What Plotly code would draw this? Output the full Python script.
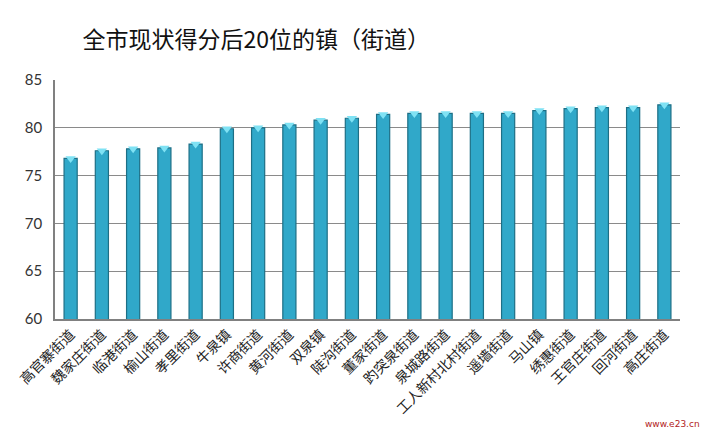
import plotly.graph_objects as go

categories = ["高官寨街道", "魏家庄街道", "临港街道", "榆山街道", "孝里街道", "牛泉镇",
              "许商街道", "黄河街道", "双泉镇", "陡沟街道", "董家街道", "趵突泉街道",
              "泉城路街道", "工人新村北村街道", "遥墙街道", "马山镇", "绣惠街道",
              "王官庄街道", "回河街道", "高庄街道"]
scores = [76.8, 77.6, 77.8, 77.9, 78.3, 79.9, 80.0, 80.3, 80.8, 81.0,
          81.4, 81.5, 81.5, 81.5, 81.5, 81.8, 82.0, 82.1, 82.1, 82.4]
y_ticks = [60, 65, 70, 75, 80, 85]
title_text = "全市现状得分后20位的镇（街道）"

fig = go.Figure()
fig.add_trace(go.Bar(
    x=categories, y=scores, width=0.42,
    marker=dict(color="#30a8c9", line=dict(color="#1d6f86", width=1.2)),
    showlegend=False, hoverinfo="x+y",
))
# light cap on top of each cylinder-like bar
fig.add_trace(go.Scatter(
    x=categories, y=scores, mode="markers",
    marker=dict(symbol="triangle-down", size=9, color="#7fe2f4",
                line=dict(width=0)),
    showlegend=False, hoverinfo="skip", cliponaxis=False,
))

fig.update_layout(
    width=720, height=435,
    margin=dict(l=55, r=40, t=80, b=116),
    paper_bgcolor="white", plot_bgcolor="white",
    title=dict(text=title_text, x=0.356, xanchor="center", y=0.908, yanchor="middle",
               font=dict(family="Noto Sans CJK SC", size=23, color="#111111")),
    xaxis=dict(
        tickangle=-45, showgrid=False, showline=True, linecolor="#808080", linewidth=1.5,
        tickfont=dict(family="Noto Sans CJK SC", size=14, color="#222222"),
        ticks="", range=[-0.5, 19.5],
    ),
    yaxis=dict(
        range=[60, 85], tickvals=y_ticks, showgrid=True, gridcolor="#8a8a8a", gridwidth=1.2,
        showline=True, linecolor="#808080", linewidth=1.5, zeroline=False,
        tickfont=dict(family="Lato, Open Sans, sans-serif", size=15, color="#333333"),
        ticks="", ticklabelstandoff=8,
    ),
)

fig.add_annotation(text="www.e23.cn", xref="paper", yref="paper", x=1.035, y=-0.47,
                   xanchor="right", yanchor="bottom", showarrow=False,
                   font=dict(family="DejaVu Sans", size=9, color="#b22222"))

fig.write_html("out.html")
